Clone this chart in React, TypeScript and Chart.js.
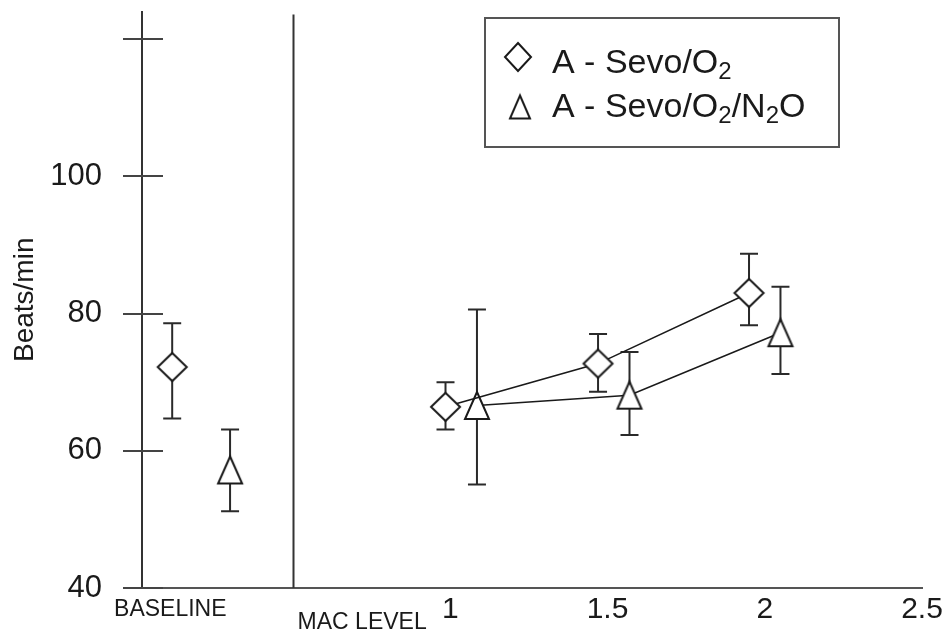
import React, { useEffect, useRef } from 'react';
import { Chart, registerables } from 'chart.js';

Chart.register(...registerables);

// ---------- data ----------
const seriesNames = ['A - Sevo/O2', 'A - Sevo/O2/N2O'];

const xTickValues = [0.11, 0.72, 1, 1.5, 2, 2.5];
const xTickLabels = ['BASELINE', 'MAC LEVEL', '1', '1.5', '2', '2.5'];
const yTickValues = [40, 60, 80, 100, 120];
const yTickLabels = ['40', '60', '80', '100', ''];
const dividerValue = 0.5;

// Sevo/O2 (diamonds)
const sevoX = [0.116, 0.985, 1.47, 1.95];
const sevoMean = [72.2, 66.4, 72.7, 83.0];
const sevoLow = [64.7, 63.1, 68.6, 78.3];
const sevoHigh = [78.6, 70.0, 77.0, 88.7];

// Sevo/O2/N2O (triangles)
const n2oX = [0.3, 1.085, 1.57, 2.05];
const n2oMean = [57.2, 66.6, 68.1, 77.2];
const n2oLow = [51.2, 55.1, 62.3, 71.2];
const n2oHigh = [63.1, 80.6, 74.4, 83.9];

// ---------- styling ----------
const FONT = '"Liberation Sans", Arial, Helvetica, sans-serif';
const INK = '#1a1a1a';

function makeMarker(kind: 'diamond' | 'triangle', w: number, h: number, lw: number) {
  const pad = 6;
  const c = document.createElement('canvas');
  c.width = w + pad * 2;
  c.height = h + pad * 2;
  const g = c.getContext('2d')!;
  const cx = c.width / 2;
  const cy = c.height / 2;
  g.beginPath();
  if (kind === 'diamond') {
    g.moveTo(cx, cy - h / 2);
    g.lineTo(cx + w / 2, cy);
    g.lineTo(cx, cy + h / 2);
    g.lineTo(cx - w / 2, cy);
  } else {
    g.moveTo(cx, cy - h / 2);
    g.lineTo(cx + w / 2, cy + h / 2);
    g.lineTo(cx - w / 2, cy + h / 2);
  }
  g.closePath();
  g.fillStyle = '#ffffff';
  g.fill();
  g.lineWidth = lw;
  g.lineJoin = 'miter';
  g.strokeStyle = INK;
  g.stroke();
  return c;
}

function toPoints(xs: number[], ys: number[]) {
  return xs.map((x, i) => ({ x, y: ys[i] }));
}

function splitSub(name: string) {
  return name
    .split(/(\d)/)
    .filter((s) => s.length > 0)
    .map((s) => ({ text: s, sub: /^\d$/.test(s) }));
}

export default function App() {
  const ref = useRef<HTMLCanvasElement>(null);

  useEffect(() => {
    const canvas = ref.current!;
    const diamond = makeMarker('diamond', 29, 28, 2);
    const triangle = makeMarker('triangle', 24, 27, 2);
    const legendDiamond = makeMarker('diamond', 26, 28, 2);
    const legendTriangle = makeMarker('triangle', 20, 23, 2);

    const decorations = {
      id: 'decorations',
      beforeDatasetsDraw(chart: any) {
        const { ctx, chartArea, scales } = chart;
        const xs = scales.x;
        const ys = scales.y;
        ctx.save();
        // divider between baseline and MAC levels
        const dx = Math.round(xs.getPixelForValue(dividerValue)) + 0.5;
        ctx.strokeStyle = '#333';
        ctx.lineWidth = 2;
        ctx.beginPath();
        ctx.moveTo(dx, chartArea.top + 3);
        ctx.lineTo(dx, chartArea.bottom);
        ctx.stroke();
        // cross ticks on y axis
        const ax = chartArea.left;
        ctx.strokeStyle = '#444';
        ctx.lineWidth = 2;
        yTickValues.forEach((v) => {
          const py = Math.round(ys.getPixelForValue(v));
          ctx.beginPath();
          ctx.moveTo(ax - 19, py);
          ctx.lineTo(ax + 21, py);
          ctx.stroke();
        });
        // error bars
        ctx.strokeStyle = '#2a2a2a';
        ctx.lineWidth = 2;
        chart.data.datasets.forEach((ds: any) => {
          ds.data.forEach((pt: any, i: number) => {
            const px = xs.getPixelForValue(pt.x);
            const top = ys.getPixelForValue(ds.errHigh[i]);
            const bot = ys.getPixelForValue(ds.errLow[i]);
            ctx.beginPath();
            ctx.moveTo(px, top);
            ctx.lineTo(px, bot);
            ctx.moveTo(px - 9, top);
            ctx.lineTo(px + 9, top);
            ctx.moveTo(px - 9, bot);
            ctx.lineTo(px + 9, bot);
            ctx.stroke();
          });
        });
        ctx.restore();
      },
      afterDraw(chart: any) {
        const { ctx } = chart;
        ctx.save();
        // legend box
        ctx.strokeStyle = '#555';
        ctx.lineWidth = 2;
        ctx.strokeRect(485, 18, 354, 129);
        const markers = [legendDiamond, legendTriangle];
        const centers = [
          [518, 57],
          [520, 107],
        ];
        const baselines = [73, 117];
        seriesNames.forEach((name, r) => {
          const m = markers[r];
          ctx.drawImage(m, centers[r][0] - m.width / 2, centers[r][1] - m.height / 2);
          let x = 552;
          ctx.fillStyle = INK;
          ctx.textBaseline = 'alphabetic';
          ctx.textAlign = 'left';
          splitSub(name).forEach((seg) => {
            ctx.font = seg.sub ? `24px ${FONT}` : `34px ${FONT}`;
            ctx.fillText(seg.text, x, baselines[r] + (seg.sub ? 6 : 0));
            x += ctx.measureText(seg.text).width;
          });
        });
        ctx.restore();
      },
    };

    const chart = new Chart(canvas, {
      type: 'scatter',
      data: {
        datasets: [
          {
            label: seriesNames[0],
            data: toPoints(sevoX, sevoMean),
            errLow: sevoLow,
            errHigh: sevoHigh,
            showLine: true,
            borderColor: INK,
            borderWidth: 1.6,
            pointStyle: diamond,
            pointRadius: 10,
            segment: {
              borderColor: (c: any) => (c.p0DataIndex === 0 ? 'rgba(0,0,0,0)' : INK),
            },
          } as any,
          {
            label: seriesNames[1],
            data: toPoints(n2oX, n2oMean),
            errLow: n2oLow,
            errHigh: n2oHigh,
            showLine: true,
            borderColor: INK,
            borderWidth: 1.6,
            pointStyle: triangle,
            pointRadius: 10,
            segment: {
              borderColor: (c: any) => (c.p0DataIndex === 0 ? 'rgba(0,0,0,0)' : INK),
            },
          } as any,
        ],
      },
      options: {
        animation: false,
        responsive: false,
        devicePixelRatio: 1,
        events: [],
        layout: { padding: { top: 10, right: 23, left: 0, bottom: 0 } },
        plugins: {
          legend: { display: false },
          tooltip: { enabled: false },
        },
        scales: {
          x: {
            type: 'linear',
            position: 'bottom',
            min: 0.02,
            max: 2.5,
            grid: { display: false },
            border: { display: true, color: '#555', width: 2 },
            afterBuildTicks: (s: any) => {
              s.ticks = xTickValues.map((v) => ({ value: v }));
            },
            afterFit: (s: any) => {
              s.height = 44;
              s.paddingLeft = 0;
              s.paddingRight = 0;
            },
            ticks: {
              autoSkip: false,
              maxRotation: 0,
              minRotation: 0,
              padding: 2,
              color: INK,
              font: (c: any) => {
                if (c.index === 0) return { family: FONT, size: 23, lineHeight: '24px' };
                if (c.index === 1) return { family: FONT, size: 23, lineHeight: '50px' };
                return { family: FONT, size: 30, lineHeight: '24px' };
              },
              callback: (_v: any, i: number) => xTickLabels[i],
            },
          },
          y: {
            type: 'linear',
            min: 40,
            max: 124,
            grid: { display: false },
            border: { display: true, color: '#333', width: 2 },
            afterBuildTicks: (s: any) => {
              s.ticks = yTickValues.map((v) => ({ value: v }));
            },
            afterFit: (s: any) => {
              s.width = 142;
              s.paddingTop = 0;
              s.paddingBottom = 0;
            },
            ticks: {
              padding: 32,
              color: INK,
              font: { family: FONT, size: 31 },
              callback: (_v: any, i: number) => yTickLabels[i],
            },
            title: {
              display: true,
              text: 'Beats/min',
              color: INK,
              font: { family: FONT, size: 28 },
              padding: { top: 8, bottom: 0 },
            },
          },
        },
      },
      plugins: [decorations],
    } as any);

    return () => chart.destroy();
  }, []);

  return (
    <div
      style={{
        position: 'fixed',
        left: 0,
        top: 0,
        width: 945,
        height: 632,
        background: '#ffffff',
      }}
    >
      <canvas
        ref={ref}
        width={945}
        height={632}
        style={{ display: 'block', width: 945, height: 632 }}
      />
    </div>
  );
}
